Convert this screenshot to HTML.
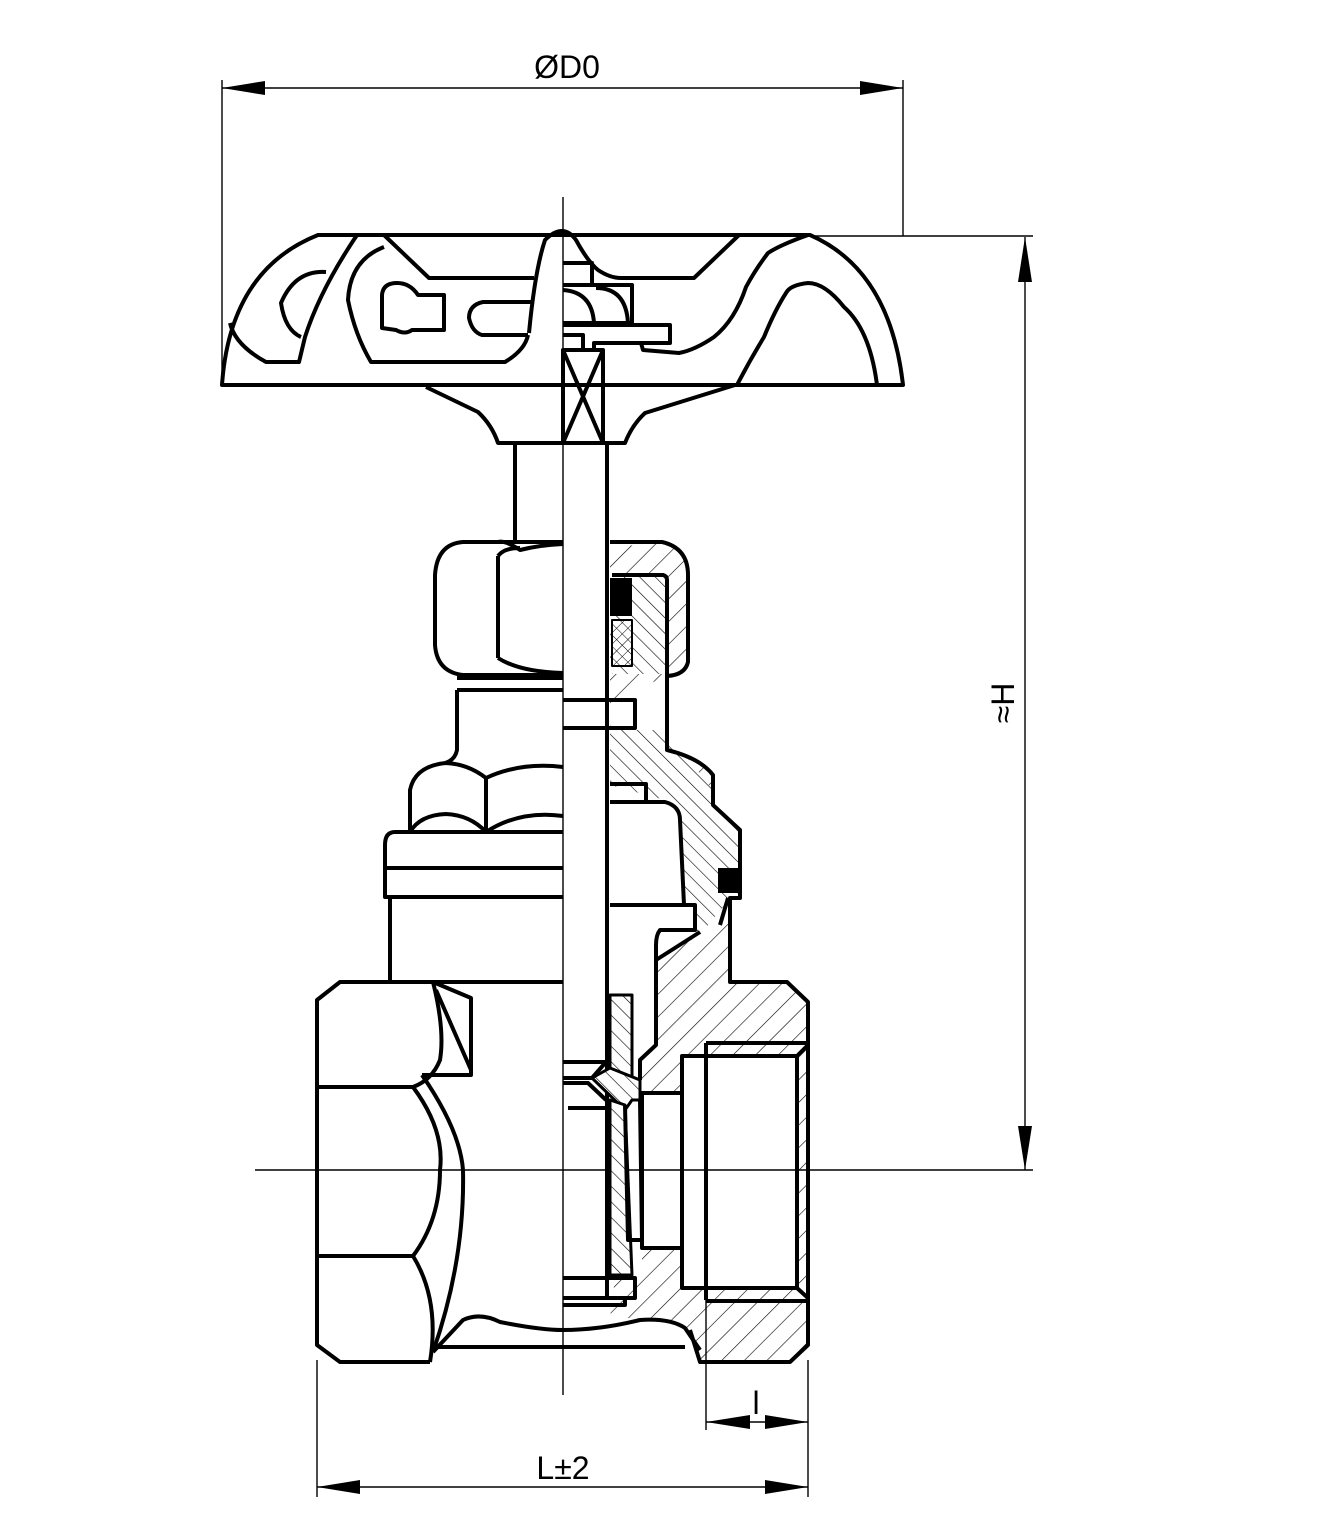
<!DOCTYPE html>
<html><head><style>
html,body{margin:0;padding:0;background:#fff}
svg{display:block}
text{font-family:"Liberation Sans",sans-serif;fill:#000}
</style></head><body>
<svg width="1330" height="1521" viewBox="0 0 1330 1521" xmlns="http://www.w3.org/2000/svg">
<defs>
<pattern id="h" patternUnits="userSpaceOnUse" width="16" height="16" patternTransform="rotate(45)">
<rect width="16" height="16" fill="#fff"/><line x1="0" y1="0" x2="0" y2="16" stroke="#000" stroke-width="1.2"/></pattern>
<pattern id="h2" patternUnits="userSpaceOnUse" width="11" height="11" patternTransform="rotate(-45)">
<rect width="11" height="11" fill="#fff"/><line x1="0" y1="0" x2="0" y2="11" stroke="#000" stroke-width="1.2"/></pattern>
<pattern id="x" patternUnits="userSpaceOnUse" width="8" height="8" patternTransform="rotate(45)">
<rect width="8" height="8" fill="#fff"/><line x1="0" y1="0" x2="0" y2="8" stroke="#000"/><line x1="0" y1="0" x2="8" y2="0" stroke="#000"/></pattern>
</defs>

<path d="M610,548 L660,542 Q688,548 688,575 L688,665 Q685,675 667,676 L667,750 Q700,758 713,775 L713,800 L740,830 L740,898 L730,898 L730,982 L787,982 L808,1002 L808,1345 L790,1362 L700,1362 L690,1330 L660,1318 L640,1290 L640,1100 L610,1080 L610,1000 L610,548 Z" fill="url(#h)"/>
<rect x="612" y="576" width="54" height="98" fill="url(#h2)"/>
<path d="M610,730 L645,730 L667,750 L667,676 L612,700 Z" fill="#fff"/>
<path d="M610,730 L665,730 L713,790 L713,800 L740,830 L740,898 L730,898 L730,982 L610,982 Z" fill="url(#h2)"/>
<path d="M730,898 L730,982 L787,982 L808,1002 L808,1345 L790,1362 L700,1362 L690,1330 L660,1318 L610,1318 L640,1080 L656,1045 L656,960 L700,935 Z" fill="url(#h)"/>
<path d="M610,785 L665,800 Q680,806 682,830 L684,905 L610,905 Z" fill="#fff"/>
<rect x="610" y="900" width="86" height="32" fill="#fff"/>
<path d="M610,932 L700,932 L656,960 L656,1045 L633,1070 L610,1070 Z" fill="#fff"/>
<rect x="682" y="1056" width="115" height="232" fill="#fff"/>
<rect x="642" y="1093" width="42" height="156" fill="#fff"/>
<rect x="610" y="1095" width="32" height="185" fill="#fff"/>

<g stroke="#000" fill="none" stroke-width="1.4">
<line x1="222" y1="80" x2="222" y2="386"/><line x1="903" y1="80" x2="903" y2="236"/>
<line x1="222" y1="88" x2="903" y2="88"/>
<line x1="808" y1="236" x2="1033" y2="236"/><line x1="255" y1="1170" x2="1033" y2="1170"/>
<line x1="1025" y1="237" x2="1025" y2="1170"/>
<line x1="317" y1="1360" x2="317" y2="1497"/><line x1="808" y1="1360" x2="808" y2="1497"/>
<line x1="317" y1="1487" x2="808" y2="1487"/>
<line x1="706" y1="1300" x2="706" y2="1430"/><line x1="706" y1="1422" x2="808" y2="1422"/>
<line x1="563" y1="197" x2="563" y2="1395"/>
</g>
<g fill="#000">
<polygon points="222,88 265,81 265,95"/><polygon points="903,88 860,81 860,95"/>
<polygon points="1025,237 1018,282 1032,282"/><polygon points="1025,1170 1018,1126 1032,1126"/>
<polygon points="317,1487 360,1480 360,1494"/><polygon points="808,1487 765,1480 765,1494"/>
<polygon points="706,1422 750,1415 750,1429"/><polygon points="808,1422 765,1415 765,1429"/>
</g>
<text x="567" y="78" font-size="32" text-anchor="middle">ØD0</text>
<text x="563" y="1479" font-size="32" text-anchor="middle">L±2</text>
<text x="756" y="1414" font-size="32" text-anchor="middle">l</text>
<text x="0" y="0" font-size="32" text-anchor="middle" transform="translate(1014,703) rotate(-90)">≈H</text>

<g stroke="#000" fill="none" stroke-width="4" stroke-linejoin="round">
<path d="M318,235 L810,235 Q890,270 903,385 L222,385 Q230,270 318,235 Z"/>
<path d="M426,387 L478,412 Q492,425 498,443 L625,443 Q632,425 645,413 L735,385"/>
<path d="M357,235 Q320,290 305,337 L299,362 L266,362 Q235,345 230,323"/>
<path d="M326,272 Q295,270 281,303 Q285,330 301,337"/>
<path d="M384,235 L429,278 L534,278"/>
<path d="M384,247 Q350,260 348,300 Q355,335 371,362 L505,362 Q525,350 528,335"/>
<path d="M397,283 Q383,283 382,295 L382,328 L396,330 Q405,335 412,330 L444,330 L444,295 L418,295 Q410,283 397,283 Z"/>
<path d="M531,302 L483,302 Q469,305 469,318 Q472,332 482,335 L528,335"/>
<path d="M529,333 Q535,270 545,240 Q563,222 576,240 Q588,262 598,270 Q610,278 621,278 L694,278 L739,235"/>
<path d="M808,235 Q780,245 768,253 Q755,270 746,287 Q735,320 714,337 Q695,350 679,353 L643,350 L641,343"/>
<path d="M877,385 Q870,330 844,307 Q825,283 808,283 Q790,285 786,293 Q775,310 764,337 Q750,360 737,385"/>
<path d="M563,263 L592,263 L592,285 M563,285 L632,285 L632,323 L563,323"/><path d="M563,290 Q592,292 594,323"/><path d="M596,288 Q626,288 628,323"/>
<path d="M563,325 L670,325 L670,343 L594,343 L594,348 M563,335 L583,335 L583,348"/>
<path d="M563,350 L603,350 L603,443 L563,443 Z M563,350 L603,443 M603,350 L563,443"/>
<path d="M515,443 L515,542 M607,443 L607,1300"/>
<path d="M563,542 L463,542 Q437,544 435,575 L435,645 Q437,672 463,675 L563,675"/>
<path d="M498,542 Q505,540 520,550 Q540,545 563,544 M498,556 L498,658 M498,556 Q504,548 520,548 M498,658 Q520,672 563,673"/>
<path d="M457,678 L563,678 M457,690 L563,690 M457,690 L457,750 Q455,760 445,763"/>
<path d="M610,542 L662,542 Q688,548 688,575 L688,662 Q685,675 667,676"/>
<path d="M612,575 L663,575 Q667,576 667,580 L667,750 Q700,758 713,775 L713,805 L740,830 L740,898 L730,898 L730,982 L787,982 L808,1002 L808,1345 L790,1362 L700,1362 L690,1330"/>
<rect x="610" y="578" width="22" height="38" fill="#000" stroke="none"/>
<rect x="612" y="620" width="20" height="46" fill="url(#x)" stroke-width="2"/>
<path d="M563,700 L635,700 L635,728 L563,728"/>
<path d="M563,767 Q520,762 486,778 Q468,764 446,763 Q415,766 410,790 L410,832 M563,816 Q520,810 486,832 Q470,815 446,814 Q420,815 410,832"/>
<path d="M486,778 L486,832"/>
<path d="M563,832 L395,832 Q385,832 385,845 L385,897 L563,897 M385,868 L563,868"/>
<path d="M390,897 L390,982 M563,982 L340,982 L317,1000 L317,1345 L340,1362 L430,1362"/>
<path d="M610,784 L646,784 L646,802 M610,802 L665,802 Q680,806 680,820 L684,905 L610,905"/>
<path d="M610,905 L695,905 L695,930 L660,930 Q656,935 656,945 L656,1045 L640,1060 L640,1080"/>
<path d="M700,932 L656,960 M720,925 L728,898"/>
<rect x="718" y="868" width="22" height="25" fill="#000" stroke="none"/>
<path d="M682,1056 L797,1056 L797,1288 L682,1288 Z M706,1043 L706,1300 M706,1043 L808,1043 M797,1056 L808,1045 M797,1288 L808,1298 M706,1301 L808,1301"/>
<path d="M682,1093 L642,1093 L642,1248 L682,1248"/>
<path d="M610,995 L632,995 L632,1080 L610,1080 Z" fill="url(#h2)" stroke-width="3"/>
<path d="M592,1078 L610,1068 L640,1080 L640,1100 L632,1100 L625,1110 Z" fill="url(#h2)" stroke-width="3"/>
<path d="M610,1100 L625,1105 L632,1275 L610,1275 Z" fill="url(#h2)" stroke-width="3"/>
<path d="M625,1105 L628,1240 L642,1240 L640,1100"/>
<path d="M563,1062 L606,1062 L592,1078 L563,1078 M563,1083 L588,1083 L606,1100 M568,1108 L606,1108"/>
<path d="M563,1278 L635,1278 L635,1298 L625,1298 L625,1305 L563,1305 M563,1298 L625,1298"/>
<path d="M433,982 Q445,1030 440,1060 Q432,1080 413,1087 L317,1087 M413,1087 Q445,1130 440,1170 Q440,1220 413,1256 L317,1256 M413,1256 Q440,1300 430,1362"/>
<path d="M433,982 L471,998 L471,1075 L422,1075 M436,990 L471,1070"/>
<path d="M422,1075 Q460,1130 463,1170 Q465,1260 433,1352"/>
<path d="M433,1352 L463,1320 Q480,1312 500,1322 Q540,1330 563,1330 Q600,1330 640,1320 Q670,1318 685,1328 L700,1350 M437,1347 L685,1347"/>
</g>
</svg>
</body></html>
